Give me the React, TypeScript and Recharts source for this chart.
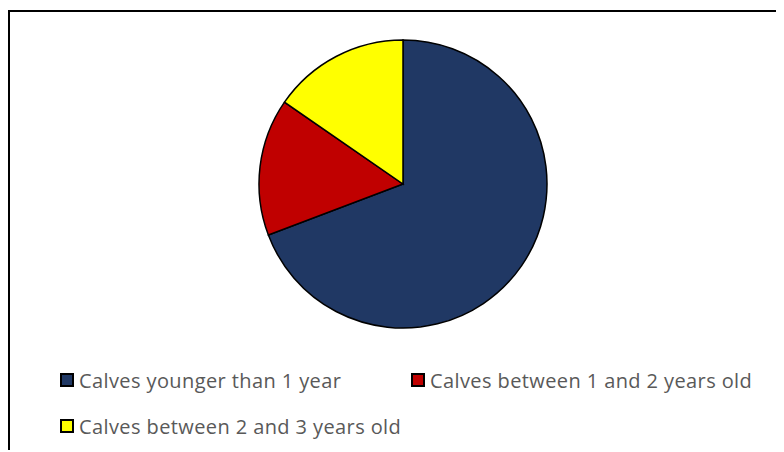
import React from "react";
import { PieChart, Pie, Cell, Legend } from "recharts";

// Age groups of the calves and how many fall into each
const categories = [
  "Calves younger than 1 year",
  "Calves between 1 and 2 years old",
  "Calves between 2 and 3 years old",
];
const counts = [9, 2, 2];
const colors = ["#203864", "#C00000", "#FFFF00"];

const data = categories.map((name, i) => ({ name, value: counts[i] }));

// Legend kept in the same order as the data series
const LegendContent = () => (
  <div
    style={{
      display: "flex",
      flexWrap: "wrap",
      width: 720,
      marginLeft: 50,
    }}
  >
    {categories.map((name, i) => (
      <div
        key={name}
        style={{
          width: 351,
          height: 46,
          display: "flex",
          alignItems: "center",
        }}
      >
        <span
          style={{
            display: "inline-block",
            width: 10,
            height: 10,
            border: "2px solid #000",
            background: colors[i],
            marginRight: 5,
            flexShrink: 0,
          }}
        />
        <span
          style={{
            fontFamily: "'Open Sans', sans-serif",
            fontSize: 20,
            letterSpacing: 0.4,
            color: "#595959",
            whiteSpace: "nowrap",
          }}
        >
          {name}
        </span>
      </div>
    ))}
  </div>
);

export default function App() {
  return (
    <div style={{ position: "relative", top: 2 }}>
      <div
        style={{
          width: 774,
          height: 440,
          borderTop: "2px solid #000",
          borderLeft: "2px solid #000",
          background: "#fff",
        }}
      >
        <PieChart
          width={774}
          height={440}
          margin={{ top: 0, right: 0, bottom: 0, left: 0 }}
        >
          <Pie
            data={data}
            dataKey="value"
            nameKey="name"
            cx={393}
            cy={172}
            outerRadius={144}
            startAngle={90}
            endAngle={-270}
            stroke="#000"
            strokeWidth={1.5}
            isAnimationActive={false}
          >
            {data.map((_, i) => (
              <Cell key={i} fill={colors[i]} />
            ))}
          </Pie>
          <Legend
            content={<LegendContent />}
            wrapperStyle={{ position: "absolute", left: 0, top: 345, width: 774 }}
          />
        </PieChart>
      </div>
    </div>
  );
}
